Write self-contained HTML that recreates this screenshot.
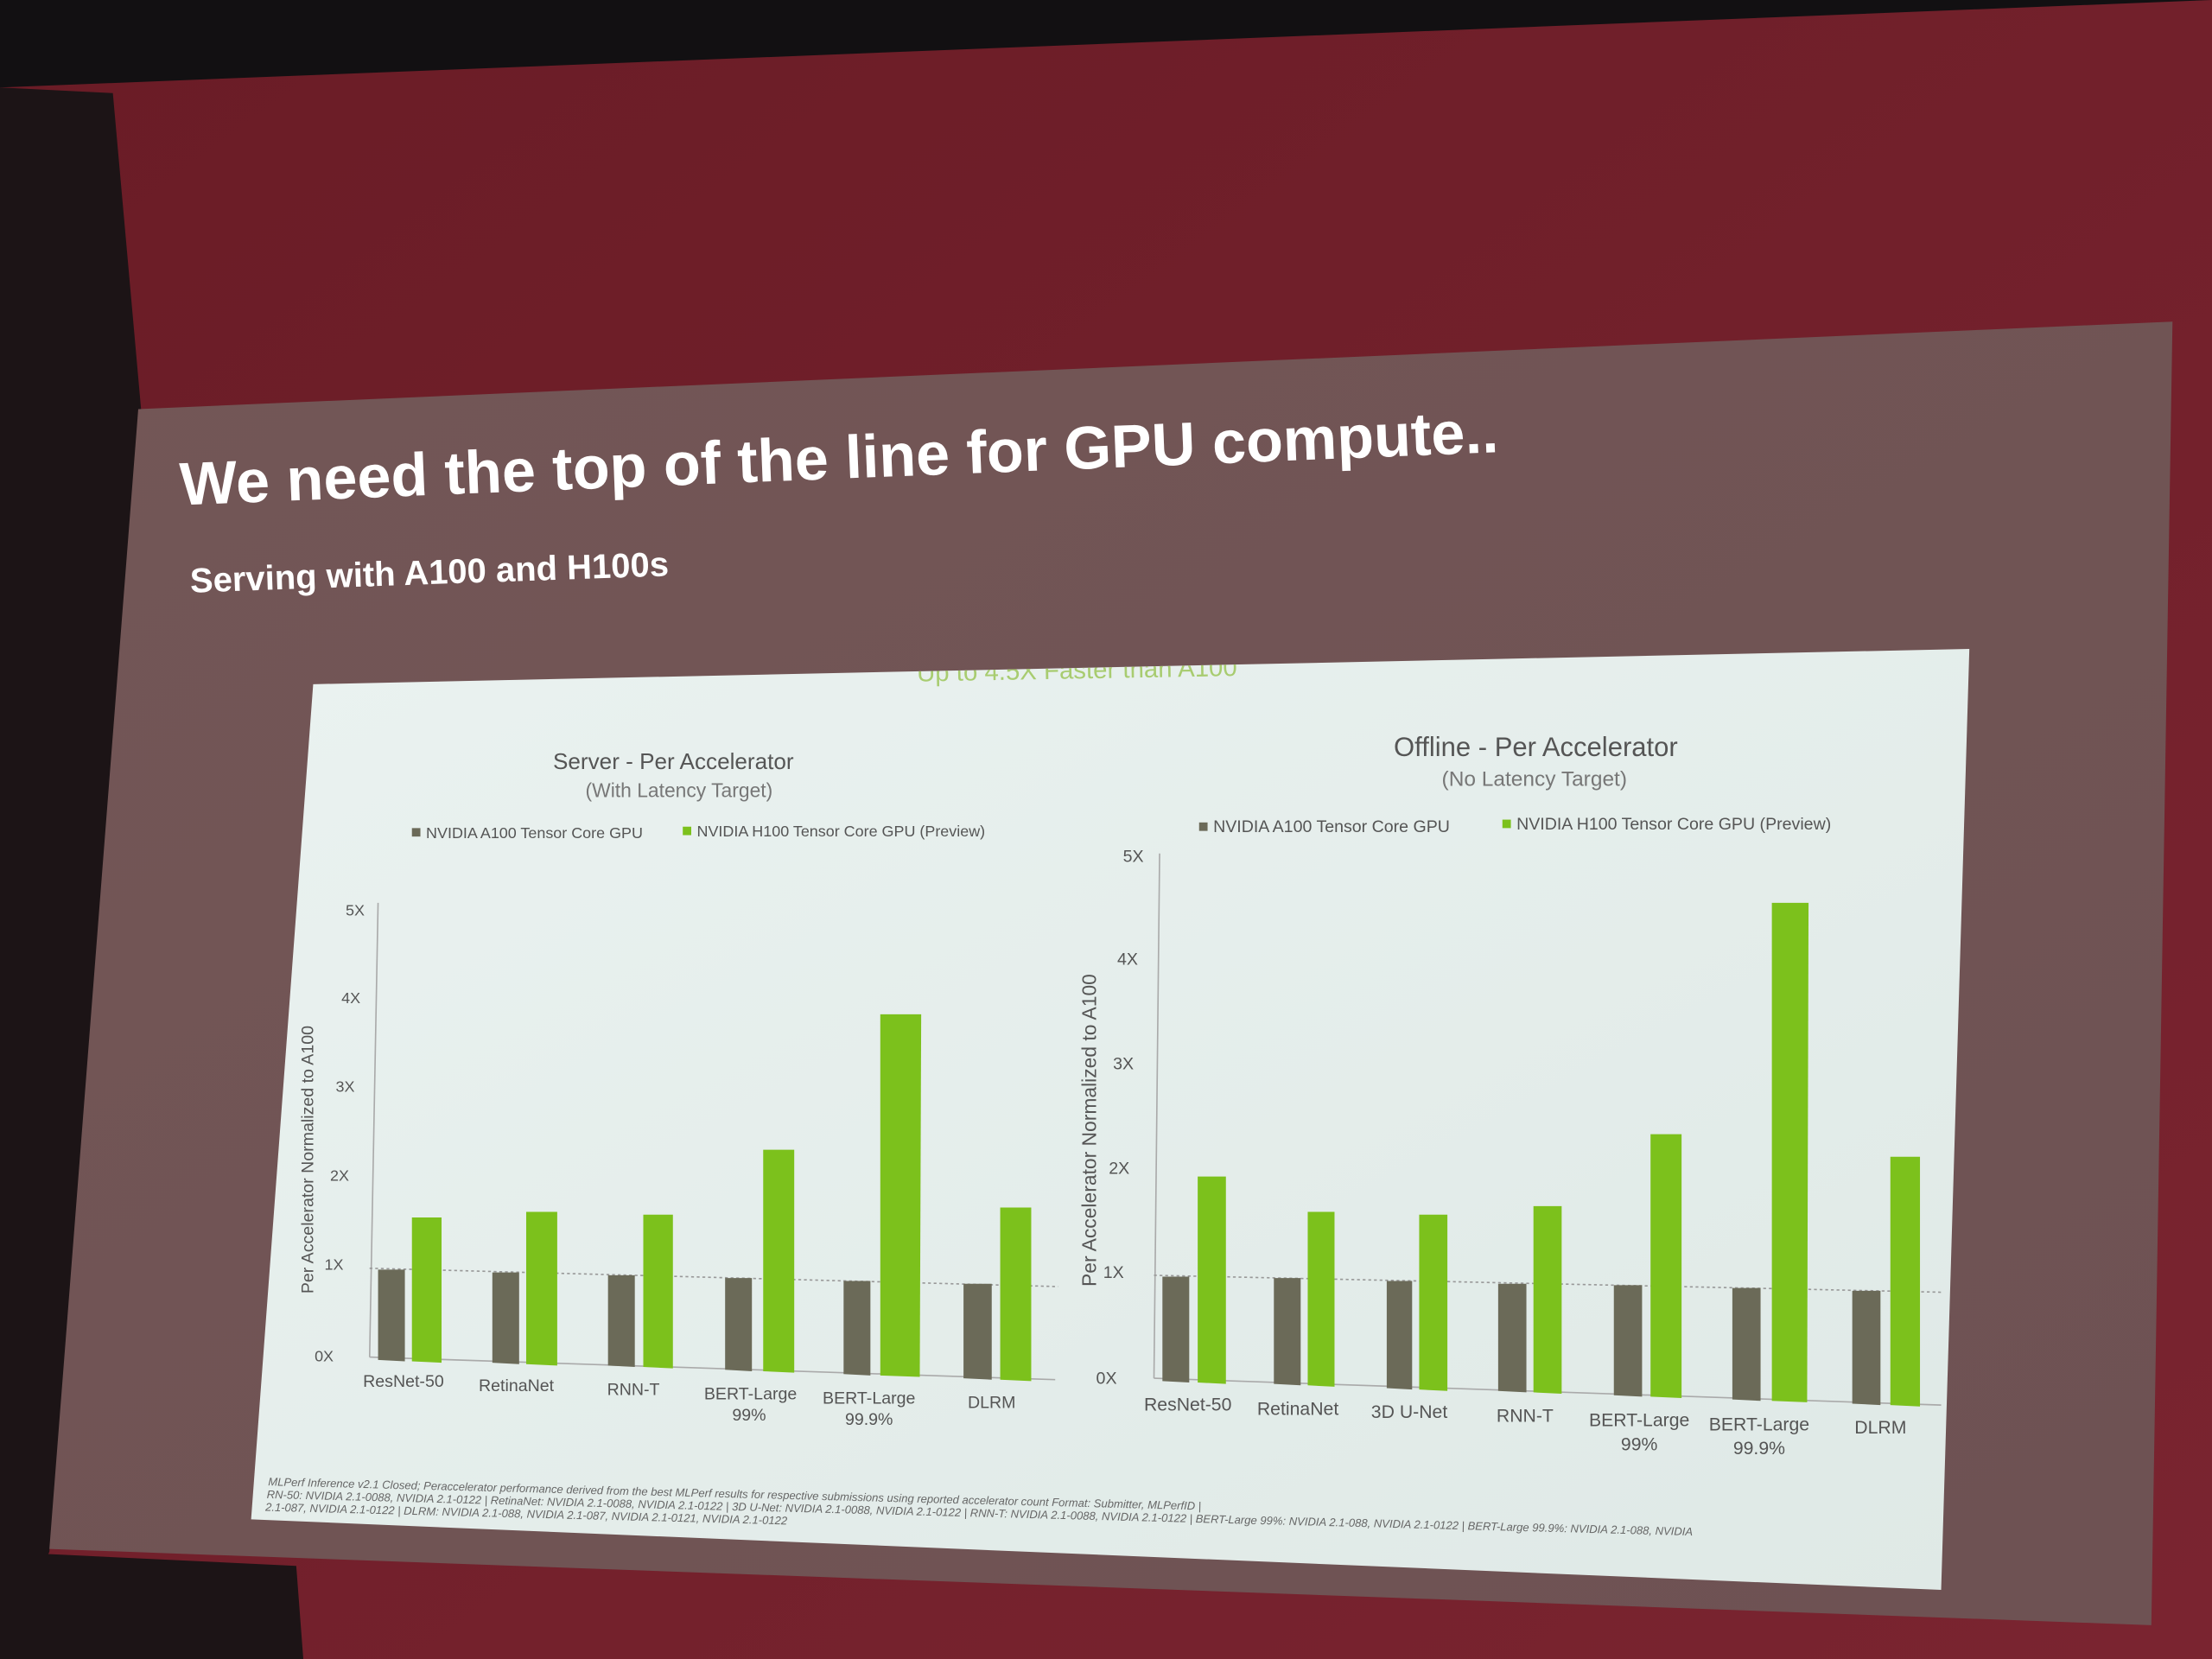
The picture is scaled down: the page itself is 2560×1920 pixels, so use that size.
<!DOCTYPE html>
<html><head><meta charset="utf-8"><style>
html,body{margin:0;padding:0;background:#1a1214;}
svg{display:block}
text{font-family:"Liberation Sans",sans-serif}
</style></head><body>
<svg width="2560" height="1920" viewBox="0 0 1568 1176" xmlns="http://www.w3.org/2000/svg">
<defs>
<linearGradient id="bg" x1="0" y1="0" x2="1" y2="1">
<stop offset="0" stop-color="#6a1c26"/><stop offset="1" stop-color="#7a2430"/>
</linearGradient>
<linearGradient id="sl" x1="0" y1="0" x2="1" y2="1">
<stop offset="0" stop-color="#735656"/><stop offset="1" stop-color="#6e5253"/>
</linearGradient>
<linearGradient id="pn" x1="0" y1="0" x2="1" y2="1">
<stop offset="0" stop-color="#eaf2f0"/><stop offset="1" stop-color="#dfe9e6"/>
</linearGradient>
<clipPath id="pc"><polygon points="222,485 1396,460 1376,1127 178,1077"/></clipPath>
</defs>
<rect width="1568" height="1176" fill="#121012"/>
<polygon points="0,62 1568,0 1568,1176 0,1176" fill="url(#bg)"/>
<polygon points="0,62 80,66 100,290 35,1100 0,1176" fill="#1c1416"/>
<polygon points="0,1100 210,1110 215,1176 0,1176" fill="#1c1416"/>
<polygon points="98,290 1540,228 1525,1152 35,1098" fill="url(#sl)"/>
<polygon points="222,485 1396,460 1376,1127 178,1077" fill="url(#pn)"/>
<g fill="#ffffff" font-weight="bold">
<text x="128" y="358" font-size="43" transform="rotate(-2.3 128 358)">We need the top of the line for GPU compute..</text>
<text x="135" y="420" font-size="24.5" transform="rotate(-2 135 420)">Serving with A100 and H100s</text>
</g>
<g clip-path="url(#pc)">
<text x="650" y="483" font-size="18" fill="#a8cc70" transform="rotate(-1 650 483)">Up to 4.5X Faster than A100</text>
</g>
<!-- left chart -->
<g fill="#555" font-size="16">
<text x="392" y="545" fill="#555">Server - Per Accelerator</text>
<text x="415" y="565" font-size="14" fill="#777">(With Latency Target)</text>
</g>
<g font-size="11" fill="#555">
<rect x="292" y="587" width="6" height="6" fill="#6b6a58"/><text x="302" y="594">NVIDIA A100 Tensor Core GPU</text>
<rect x="484" y="586" width="6" height="6" fill="#7cc11c"/><text x="494" y="593">NVIDIA H100 Tensor Core GPU (Preview)</text>
<text x="245" y="649">5X</text><text x="242" y="711">4X</text><text x="238" y="774">3X</text><text x="234" y="837">2X</text><text x="230" y="900">1X</text><text x="223" y="965">0X</text>
<text x="222" y="917" font-size="12" transform="rotate(-90 222 917)">Per Accelerator Normalized to A100</text>
</g>
<line x1="268" y1="640" x2="262" y2="962" stroke="#aaa" stroke-width="1"/>
<line x1="262" y1="962" x2="748" y2="978" stroke="#aaa" stroke-width="1"/>
<line x1="262" y1="899" x2="750" y2="912" stroke="#999" stroke-width="1" stroke-dasharray="2,2"/>
<g fill="#6b6a58">
<polygon points="268,900 287,900 287,965 268,964"/>
<polygon points="349,902 368,902 368,967 349,966"/>
<polygon points="431,904 450,904 450,969 431,968"/>
<polygon points="514,906 533,906 533,972 514,971"/>
<polygon points="598,908 617,908 617,975 598,974"/>
<polygon points="683,910 703,910 703,978 683,977"/>
</g>
<g fill="#7cc11c">
<polygon points="292,863 313,863 313,966 292,965"/>
<polygon points="373,859 395,859 395,968 373,967"/>
<polygon points="456,861 477,861 477,970 456,969"/>
<polygon points="541,815 563,815 563,973 541,972"/>
<polygon points="624,719 653,719 652,976 624,975"/>
<polygon points="709,856 731,856 731,979 709,978"/>
</g>
<g font-size="12" fill="#555" text-anchor="middle">
<text x="286" y="983">ResNet-50</text><text x="366" y="986">RetinaNet</text><text x="449" y="989">RNN-T</text>
<text x="532" y="992">BERT-Large</text><text x="531" y="1007">99%</text>
<text x="616" y="995">BERT-Large</text><text x="616" y="1010">99.9%</text><text x="703" y="998">DLRM</text>
</g>
<!-- right chart -->
<text x="988" y="536" font-size="19" fill="#555">Offline - Per Accelerator</text>
<text x="1022" y="557" font-size="15" fill="#777">(No Latency Target)</text>
<g font-size="12" fill="#555">
<rect x="850" y="583" width="6" height="6" fill="#6b6a58"/><text x="860" y="590">NVIDIA A100 Tensor Core GPU</text>
<rect x="1065" y="581" width="6" height="6" fill="#7cc11c"/><text x="1075" y="588">NVIDIA H100 Tensor Core GPU (Preview)</text>
<text x="796" y="611">5X</text><text x="792" y="684">4X</text><text x="789" y="758">3X</text><text x="786" y="832">2X</text><text x="782" y="906">1X</text><text x="777" y="981">0X</text>
<text x="777" y="912" font-size="14" transform="rotate(-90 777 912)">Per Accelerator Normalized to A100</text>
</g>
<line x1="822" y1="605" x2="818" y2="977" stroke="#aaa" stroke-width="1"/>
<line x1="818" y1="977" x2="1376" y2="996" stroke="#aaa" stroke-width="1"/>
<line x1="818" y1="904" x2="1376" y2="916" stroke="#999" stroke-width="1" stroke-dasharray="2,2"/>
<g fill="#6b6a58">
<polygon points="824,905 843,905 843,980 824,979"/>
<polygon points="903,906 922,906 922,982 903,981"/>
<polygon points="983,908 1001,908 1001,985 983,984"/>
<polygon points="1062,910 1082,910 1082,987 1062,986"/>
<polygon points="1144,911 1164,911 1164,990 1144,989"/>
<polygon points="1228,913 1248,913 1248,993 1228,992"/>
<polygon points="1313,915 1333,915 1333,996 1313,995"/>
</g>
<g fill="#7cc11c">
<polygon points="849,834 869,834 869,981 849,980"/>
<polygon points="927,859 946,859 946,983 927,982"/>
<polygon points="1006,861 1026,861 1026,986 1006,985"/>
<polygon points="1087,855 1107,855 1107,988 1087,987"/>
<polygon points="1170,804 1192,804 1192,991 1170,990"/>
<polygon points="1256,640 1282,640 1281,994 1256,993"/>
<polygon points="1340,820 1361,820 1361,997 1340,996"/>
</g>
<g font-size="13" fill="#555" text-anchor="middle">
<text x="842" y="1000">ResNet-50</text><text x="920" y="1003">RetinaNet</text><text x="999" y="1005">3D U-Net</text>
<text x="1081" y="1008">RNN-T</text>
<text x="1162" y="1011">BERT-Large</text><text x="1162" y="1028">99%</text>
<text x="1247" y="1014">BERT-Large</text><text x="1247" y="1031">99.9%</text><text x="1333" y="1016">DLRM</text>
</g>
<g font-size="8" fill="#666" font-style="italic">
<text x="190" y="1053" transform="rotate(1.5 190 1053)">MLPerf Inference v2.1 Closed; Peraccelerator performance derived from the best MLPerf results for respective submissions using reported accelerator count Format: Submitter, MLPerfID |</text>
<text x="189" y="1062" transform="rotate(1.5 189 1062)">RN-50: NVIDIA 2.1-0088, NVIDIA 2.1-0122 | RetinaNet: NVIDIA 2.1-0088, NVIDIA 2.1-0122 | 3D U-Net: NVIDIA 2.1-0088, NVIDIA 2.1-0122 | RNN-T: NVIDIA 2.1-0088, NVIDIA 2.1-0122 | BERT-Large 99%: NVIDIA 2.1-088, NVIDIA 2.1-0122 | BERT-Large 99.9%: NVIDIA 2.1-088, NVIDIA</text>
<text x="188" y="1071" transform="rotate(1.5 188 1071)">2.1-087, NVIDIA 2.1-0122 | DLRM: NVIDIA 2.1-088, NVIDIA 2.1-087, NVIDIA 2.1-0121, NVIDIA 2.1-0122</text>
</g>
</svg>
</body></html>
